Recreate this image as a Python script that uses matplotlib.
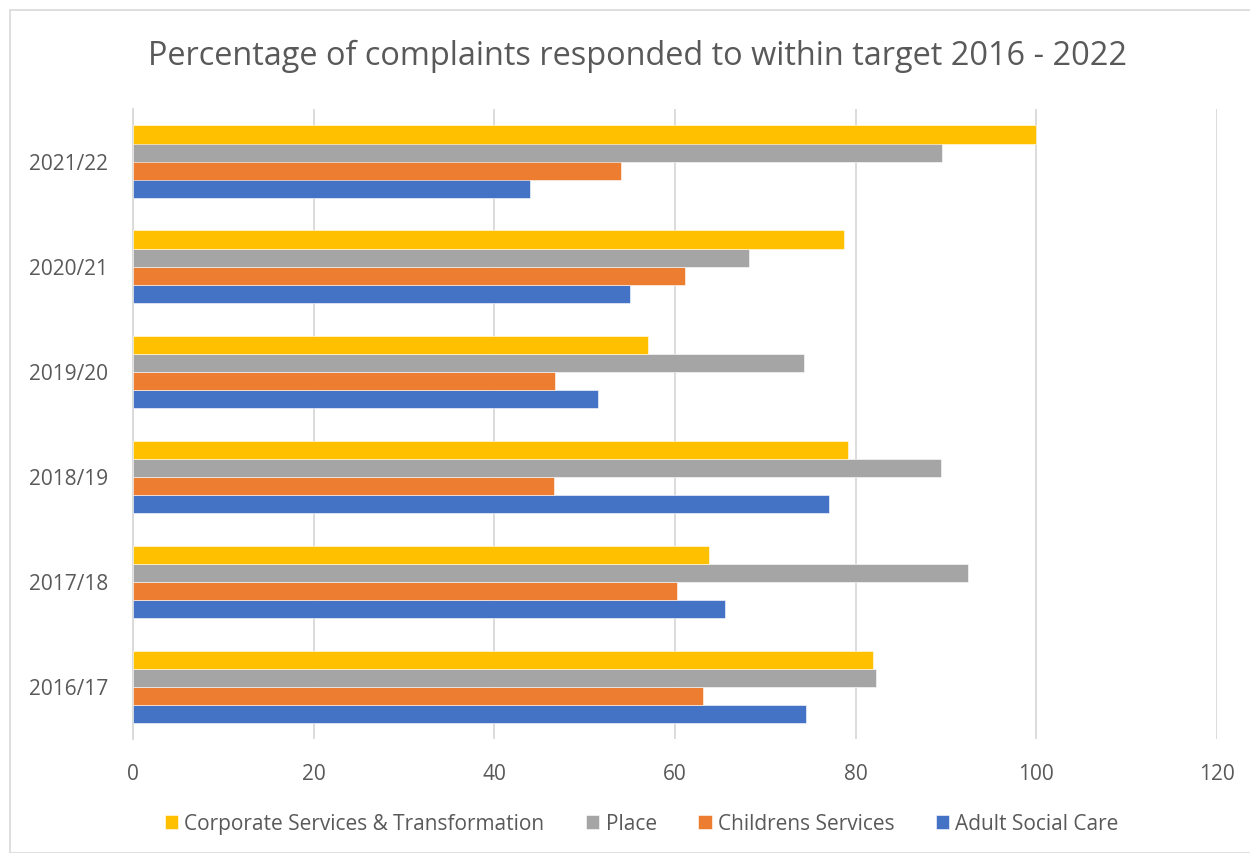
import matplotlib.pyplot as plt
import numpy as np
from matplotlib.patches import Rectangle

# data (percent responded within target)
years = ['2016/17', '2017/18', '2018/19', '2019/20', '2020/21', '2021/22']
adult = [74.5, 65.5, 77.1, 51.5, 55.0, 44.0]
childrens = [63.1, 60.2, 46.6, 46.7, 61.1, 54.0]
place = [82.3, 92.4, 89.4, 74.3, 68.2, 89.6]
corporate = [81.9, 63.8, 79.1, 57.0, 78.7, 100.0]

series_names = ['Adult Social Care', 'Childrens Services', 'Place',
                'Corporate Services & Transformation']
colors = ['#4472C4', '#ED7D31', '#A5A5A5', '#FFC000']
txt = '#595959'

plt.rcParams['font.family'] = ['Open Sans', 'DejaVu Sans']

fig = plt.figure(figsize=(12.5, 8.54), dpi=100)
ax = fig.add_axes([133 / 1250, 1 - 740 / 854, (1217 - 133) / 1250, (740 - 110) / 854])

# light chart border
fig.patches.append(Rectangle((10 / 1250, 0), 1.2, (854 - 11) / 854, transform=fig.transFigure,
                             fill=False, edgecolor='#D9D9D9', linewidth=1.2))

y = np.arange(len(years))
h = 18 / 105
handles = {}
for k, (vals, name, c) in enumerate(zip([adult, childrens, place, corporate], series_names, colors)):
    off = (k - 1.5) * h
    handles[name] = ax.barh(y + off, vals, height=h, color=c, edgecolor='white', linewidth=0.4,
                            label=name, zorder=3)

ax.set_xlim(0, 120)
ax.set_ylim(-0.5, len(years) - 0.5)
ax.set_xticks(range(0, 121, 20))
ax.set_yticks(y)
ax.set_yticklabels(years)
ax.tick_params(axis='both', length=0, colors=txt, labelsize=15)
ax.tick_params(axis='x', pad=17)
ax.tick_params(axis='y', pad=18)
ax.grid(axis='x', color='#D9D9D9', linewidth=1.3, zorder=0)
for s in ['top', 'right', 'bottom']:
    ax.spines[s].set_visible(False)
ax.spines['left'].set_color('#D9D9D9')
ax.spines['left'].set_linewidth(1.3)

fig.text(637.5 / 1250, 1 - 56 / 854, 'Percentage of complaints responded to within target 2016 - 2022',
         ha='center', va='center', fontsize=23.4, color=txt)

order = series_names[::-1]
fig.legend([handles[n] for n in order], order, loc='center', bbox_to_anchor=(642 / 1250, 1 - 825 / 854),
           ncol=4, frameon=False, fontsize=15, labelcolor=txt, handlelength=0.63,
           handleheight=0.63, handletextpad=0.3, columnspacing=2.0)

fig.savefig('out.png', dpi=100)
